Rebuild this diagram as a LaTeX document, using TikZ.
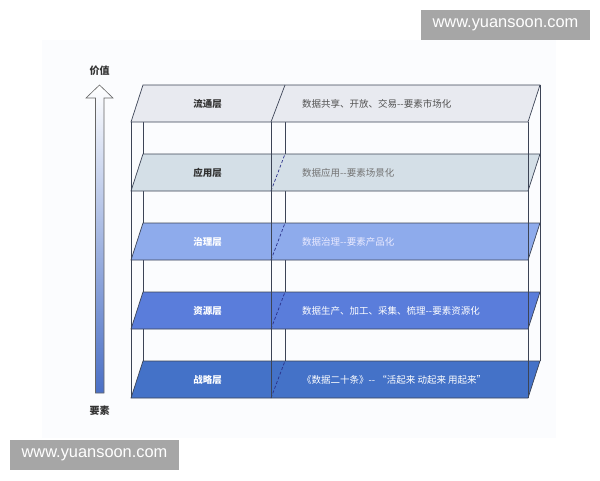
\documentclass[tikz,border=0pt]{standalone}
\usepackage{fontspec}
\newfontfamily\cjk{Noto Sans CJK SC}
\newfontfamily\wmfont{Liberation Sans}
\definecolor{linec}{HTML}{3C4456}
\definecolor{layA}{HTML}{E8EAF0}
\definecolor{layB}{HTML}{D4DFE7}
\definecolor{layC}{HTML}{8EABEC}
\definecolor{layD}{HTML}{5A7DDB}
\definecolor{layE}{HTML}{4472C8}
\definecolor{darktxt}{HTML}{333333}
\definecolor{wmgray}{HTML}{A6A6A6}
\definecolor{panel}{HTML}{FBFCFE}
\definecolor{arrowblue}{HTML}{4A6FC5}
\tikzset{
  edge/.style={draw=linec, line width=0.7pt},
  post/.style={draw=linec, line width=0.7pt},
  dashdiv/.style={draw=linec!70!blue, line width=0.7pt, dash pattern=on 3pt off 2pt},
  lab/.style={font=\cjk\bfseries\fontsize{9.5}{11}\selectfont, inner sep=0pt},
  desc/.style={font=\cjk\fontsize{9.5}{11}\selectfont, inner sep=0pt, anchor=west},
  axislab/.style={font=\cjk\bfseries\fontsize{10}{12}\selectfont, text=darktxt, inner sep=0pt},
  wmbox/.style={fill=wmgray, text=white, font=\wmfont\fontsize{16.4}{18}\selectfont,
    minimum width=169pt, minimum height=30pt, inner sep=0pt}
}
\begin{document}
\begin{tikzpicture}[x=1pt,y=-1pt]
\useasboundingbox (0,0) rectangle (600,480);
\fill[white] (0,0) rectangle (600,480);
% faint panel
\fill[panel] (42,40) rectangle (556,438);

% arrow
\shade[top color=white, bottom color=arrowblue, draw=gray!80!black, line width=0.6pt]
  (95.5,393) -- (95.5,98) -- (86,98) -- (99.5,85) -- (113,98) -- (104,98) -- (104,393) -- cycle;
\node[axislab] (val) at (99.5,71) {价值};
\node[axislab] (ele) at (99.5,411) {要素};

% back posts
\coordinate (bl0) at (143,85);  \coordinate (bl1) at (143,361);
\coordinate (bm0) at (285,85);  \coordinate (bm1) at (285,361);
\coordinate (br0) at (540,85);  \coordinate (br1) at (540,361);
\draw[post] (bl0) -- (bl1);
\draw[post] (bm0) -- (bm1);
\draw[post] (br0) -- (br1);

% layers (front y / back y)
% 1: 122/85
\filldraw[edge, fill=layA] (131,122) -- (528,122) -- (540,85) -- (143,85) -- cycle;
\draw[edge] (271,122) -- (285,85);
% 2: 191/154
\filldraw[edge, fill=layB] (131,191) -- (528,191) -- (540,154) -- (143,154) -- cycle;
\draw[dashdiv] (271,191) -- (285,154);
% 3: 260/223
\filldraw[edge, fill=layC] (131,260) -- (528,260) -- (540,223) -- (143,223) -- cycle;
\draw[dashdiv] (271,260) -- (285,223);
% 4: 329/292
\filldraw[edge, fill=layD] (131,329) -- (528,329) -- (540,292) -- (143,292) -- cycle;
\draw[dashdiv] (271,329) -- (285,292);
% 5: 398/361
\filldraw[edge, fill=layE] (131,398) -- (528,398) -- (540,361) -- (143,361) -- cycle;
\draw[dashdiv] (271,398) -- (285,361);

% front posts
\coordinate (fl0) at (131,122); \coordinate (fl1) at (131,398);
\coordinate (fm0) at (271,122); \coordinate (fm1) at (271,398);
\coordinate (fr0) at (528,122); \coordinate (fr1) at (528,398);
\draw[post] (fl0) -- (fl1);
\draw[post] (fm0) -- (fm1);
\draw[post] (fr0) -- (fr1);

% labels
\node[lab, text=darktxt] (l1) at (207.5,103.5) {流通层};
\node[lab, text=darktxt] (l2) at (207.5,172.5) {应用层};
\node[lab, text=white] (l3) at (207.5,241.5) {治理层};
\node[lab, text=white] (l4) at (207.5,310.5) {资源层};
\node[lab, text=white] (l5) at (207.5,379.5) {战略层};

\node[desc, text=black!68] (d1) at (302,103.5) {数据共享、开放、交易--要素市场化};
\node[desc, text=black!55] (d2) at (302,172.5) {数据应用--要素场景化};
\node[desc, text=white!92!blue] (d3) at (302,241.5) {数据治理--要素产品化};
\node[desc, text=white] (d4) at (302,310.5) {数据生产、加工、采集、梳理--要素资源化};
\node[desc, text=white] (d5) at (302,379.5) {《数据二十条》-- “活起来 动起来 用起来”};

% watermarks
\node[wmbox] (wm1) at (505.5,25) {www.yuansoon.com};
\node[wmbox] (wm2) at (94.5,455) {www.yuansoon.com};
\end{tikzpicture}
\end{document}
